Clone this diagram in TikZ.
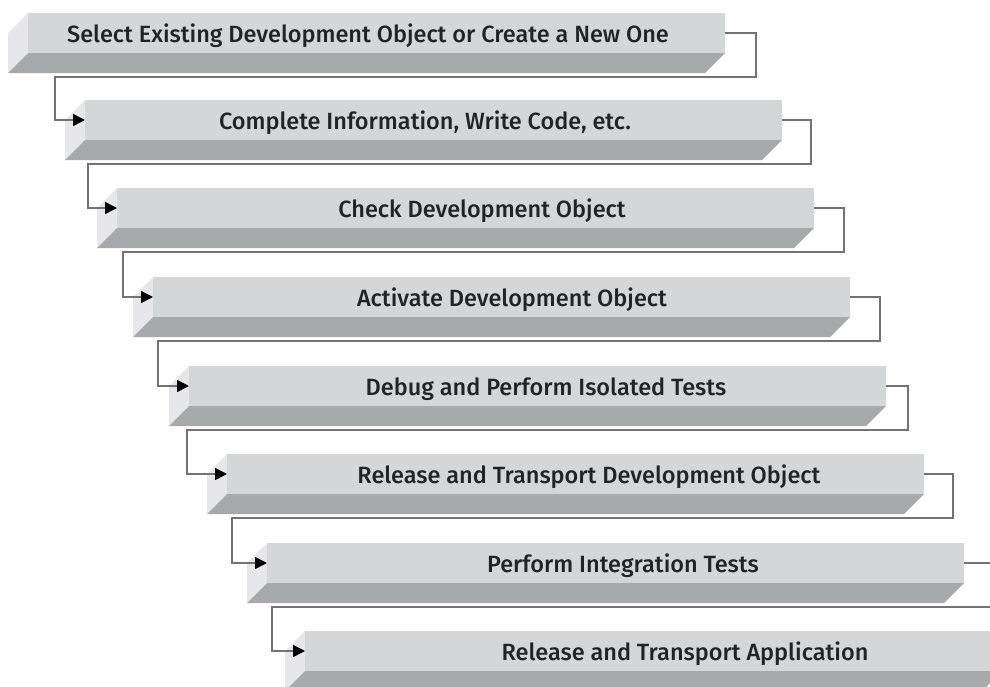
\documentclass[tikz,border=0pt]{standalone}
\usepackage{fontspec}
\setmainfont{Fira Sans}[UprightFont=* Medium]
\usetikzlibrary{arrows.meta}

\definecolor{frontgray}{RGB}{213,214,216}
\definecolor{basegray}{RGB}{168,169,171}
\definecolor{sidegray}{RGB}{231,231,233}
\definecolor{linkgray}{RGB}{115,115,117}
\definecolor{textgray}{RGB}{35,35,35}

\tikzset{
  frontface/.style={fill=frontgray, minimum width=697pt, minimum height=40pt,
    inner sep=0pt, outer sep=0pt, anchor=north west},
  steptext/.style={anchor=base, text=textgray, inner sep=0pt,
    font=\fontsize{23.5}{28}\selectfont},
  link/.style={draw=linkgray, line width=1.5pt,
    -{Triangle[length=12pt,width=12pt,color=black]}},
}

% One extruded bar: side face, bottom face and the named front face
\newcommand\stepbar[3]{%
  \fill[sidegray] (#2,#3) -- (#2,#3+40) -- (#2-20,#3+60) -- (#2-20,#3+20) -- cycle;
  \fill[basegray] (#2,#3+40) -- (#2+697,#3+40) -- (#2+677,#3+60) -- (#2-20,#3+60) -- cycle;
  \node[frontface] (#1) at (#2,#3) {};
}

\begin{document}
\begin{tikzpicture}[x=1pt,y=-1pt]
\useasboundingbox (0,0) rectangle (990,686);
\fill[white] (0,0) rectangle (990,686);
\clip (0,0) rectangle (990,686);

\stepbar{b1}{28}{13}
\stepbar{b2}{85}{100}
\stepbar{b3}{117}{188}
\stepbar{b4}{153}{277}
\stepbar{b5}{189}{366}
\stepbar{b6}{227}{454}
\stepbar{b7}{267}{543}
\stepbar{b8}{305}{631}

\node[steptext] (t1) at (368,42)  {Select Existing Development Object or Create a New One};
\node[steptext] (t2) at (425,129) {Complete Information, Write Code, etc.};
\node[steptext] (t3) at (482,217) {Check Development Object};
\node[steptext] (t4) at (512,306) {Activate Development Object};
\node[steptext] (t5) at (546,395) {Debug and Perform Isolated Tests};
\node[steptext] (t6) at (589,483) {Release and Transport Development Object};
\node[steptext] (t7) at (623,572) {Perform Integration Tests};
\node[steptext] (t8) at (685,660) {Release and Transport Application};

% Step-to-step connectors
\draw[link] (b1.east) -| (756,77)  -- (55,77)  |- (b2.west);
\draw[link] (b2.east) -| (811,164) -- (88,164) |- (b3.west);
\draw[link] (b3.east) -| (844,252) -- (123,252) |- (b4.west);
\draw[link] (b4.east) -| (880,341) -- (158,341) |- (b5.west);
\draw[link] (b5.east) -| (908,430) -- (187,430) |- (b6.west);
\draw[link] (b6.east) -| (953,518) -- (232,518) |- (b7.west);
\draw[link] (b7.east) -| (993,607) -- (272,607) |- (b8.west);
\end{tikzpicture}
\end{document}
